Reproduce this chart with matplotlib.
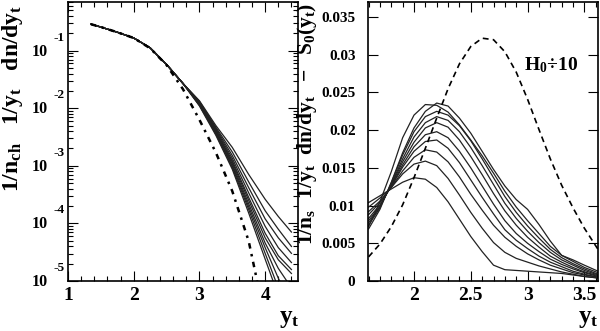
import matplotlib
matplotlib.use("Agg")
import numpy as np
import matplotlib.pyplot as plt
import matplotlib.transforms as mtransforms
from matplotlib.ticker import (MultipleLocator, FixedLocator, NullFormatter,
                               LogLocator, FuncFormatter)

plt.rcParams["font.family"] = ["Liberation Serif", "DejaVu Serif"]
plt.rcParams["font.weight"] = "bold"
plt.rcParams["mathtext.fontset"] = "custom"
plt.rcParams["mathtext.rm"] = "Liberation Serif:bold"
plt.rcParams["mathtext.it"] = "Liberation Serif:italic:bold"
plt.rcParams["mathtext.bf"] = "Liberation Serif:bold"

# ---------------- left panel: yt spectra (log scale) ----------------
yt_left = [1.35, 1.5, 1.75, 2.0, 2.25, 2.5, 2.75, 3.0, 3.25, 3.5, 3.75, 4.0, 4.2, 4.4]

# shared low-yt part of every multiplicity class
spec_common = [0.288, 0.257, 0.209, 0.166, 0.112, 0.0575, 0.0269]

spec_tail_0 = [1.349e-2, 5.01e-3, 2.09e-3, 7.08e-4, 2.63e-4, 1.32e-4, 7.08e-5]
spec_tail_1 = [1.318e-2, 4.68e-3, 1.74e-3, 5.25e-4, 1.66e-4, 7.94e-5, 3.98e-5]
spec_tail_2 = [1.288e-2, 4.47e-3, 1.51e-3, 4.17e-4, 1.20e-4, 5.62e-5, 3.02e-5]
spec_tail_3 = [1.259e-2, 4.27e-3, 1.35e-3, 3.39e-4, 8.91e-5, 3.80e-5, 2.09e-5]
spec_tail_4 = [1.230e-2, 4.07e-3, 1.23e-3, 2.82e-4, 6.76e-5, 2.75e-5, 1.58e-5]
spec_tail_5 = [1.202e-2, 3.98e-3, 1.15e-3, 2.51e-4, 5.62e-5, 2.34e-5, 1.35e-5]
spec_tail_6 = [1.175e-2, 3.80e-3, 1.07e-3, 2.19e-4, 4.57e-5, 1.66e-5, 7.59e-6]
spec_tail_7 = [1.148e-2, 3.72e-3, 1.00e-3, 1.95e-4, 3.80e-5, 1.12e-5, 3.98e-6]
spec_tail_8 = [1.122e-2, 3.55e-3, 9.33e-4, 1.74e-4, 3.02e-5, 7.59e-6, 2.00e-6]
spec_tail_9 = [1.096e-2, 3.39e-3, 8.71e-4, 1.51e-4, 2.40e-5, 5.62e-6, 1.26e-6]

spec_tails = [spec_tail_0, spec_tail_1, spec_tail_2, spec_tail_3, spec_tail_4,
              spec_tail_5, spec_tail_6, spec_tail_7, spec_tail_8, spec_tail_9]

# S0 reference spectrum
yt_s0 = [1.35, 1.5, 1.75, 2.0, 2.25, 2.5, 2.75, 3.0, 3.25, 3.5, 3.75, 3.9]
s0_vals = [0.288, 0.257, 0.209, 0.166, 0.110, 0.0562, 0.0214, 6.31e-3,
           1.70e-3, 3.63e-4, 4.90e-5, 7.6e-6]

# ---------------- right panel: spectra minus S0 ----------------
yt_right = [1.6, 1.7, 1.8, 1.9, 2.0, 2.1, 2.2, 2.3, 2.4, 2.5, 2.6, 2.7, 2.8,
            2.9, 3.0, 3.1, 3.2, 3.3, 3.4, 3.5, 3.62]

diff_0 = [0.0104, 0.0113, 0.0122, 0.0131, 0.0137, 0.0135, 0.0124, 0.0105, 0.0082, 0.0059, 0.0039,
          0.0021, 0.0015, 0.0014, 0.0013, 0.0012, 0.0011, 0.0010, 0.0008, 0.0006, 0.0004]
diff_1 = [0.0098, 0.0110, 0.0124, 0.0142, 0.0155, 0.0159, 0.0153, 0.0136, 0.0114, 0.0091, 0.0070,
          0.0051, 0.0038, 0.0030, 0.0025, 0.0020, 0.0016, 0.0012, 0.0009, 0.0006, 0.0004]
diff_2 = [0.0092, 0.0106, 0.0124, 0.0146, 0.0164, 0.0174, 0.0171, 0.0158, 0.0138, 0.0115, 0.0094,
          0.0074, 0.0058, 0.0046, 0.0036, 0.0028, 0.0021, 0.0016, 0.0011, 0.0008, 0.0005]
diff_3 = [0.0088, 0.0104, 0.0125, 0.0151, 0.0172, 0.0185, 0.0187, 0.0176, 0.0157, 0.0134, 0.0111,
          0.0089, 0.0068, 0.0054, 0.0043, 0.0033, 0.0025, 0.0019, 0.0013, 0.0009, 0.0005]
diff_4 = [0.0083, 0.0101, 0.0126, 0.0154, 0.0178, 0.0194, 0.0198, 0.0190, 0.0172, 0.0150, 0.0126,
          0.0102, 0.0080, 0.0063, 0.0050, 0.0039, 0.0029, 0.0022, 0.0016, 0.0011, 0.0006]
diff_5 = [0.0080, 0.0099, 0.0127, 0.0158, 0.0184, 0.0203, 0.0210, 0.0204, 0.0187, 0.0165, 0.0141,
          0.0116, 0.0093, 0.0074, 0.0058, 0.0045, 0.0033, 0.0025, 0.0018, 0.0012, 0.0007]
diff_6 = [0.0077, 0.0098, 0.0128, 0.0162, 0.0191, 0.0210, 0.0218, 0.0213, 0.0198, 0.0177, 0.0153,
          0.0128, 0.0103, 0.0083, 0.0066, 0.0051, 0.0038, 0.0028, 0.0021, 0.0014, 0.0008]
diff_7 = [0.0074, 0.0097, 0.0130, 0.0167, 0.0198, 0.0218, 0.0225, 0.0220, 0.0206, 0.0186, 0.0162,
          0.0137, 0.0112, 0.0091, 0.0073, 0.0057, 0.0042, 0.0031, 0.0023, 0.0016, 0.0009]
diff_8 = [0.0072, 0.0105, 0.0145, 0.0190, 0.0220, 0.0234, 0.0233, 0.0224, 0.0207, 0.0187, 0.0166,
          0.0143, 0.0119, 0.0098, 0.0080, 0.0063, 0.0046, 0.0034, 0.0026, 0.0018, 0.0011]
diff_9 = [0.0069, 0.0095, 0.0131, 0.0170, 0.0203, 0.0225, 0.0236, 0.0232, 0.0216, 0.0196, 0.0172,
          0.0148, 0.0126, 0.0108, 0.0095, 0.0075, 0.0053, 0.0034, 0.0028, 0.0021, 0.0013]

diffs = [diff_0, diff_1, diff_2, diff_3, diff_4, diff_5, diff_6, diff_7, diff_8, diff_9]

# H0 shape divided by 10
h0_div10 = [0.0032, 0.0049, 0.0072, 0.0101, 0.0137, 0.0176, 0.0216, 0.0255, 0.0288, 0.0311, 0.0322,
            0.0320, 0.0304, 0.0277, 0.0241, 0.0201, 0.0162, 0.0127, 0.0097, 0.0070, 0.0042]

W, H = 600, 331
fig = plt.figure(figsize=(W / 100, H / 100), dpi=100)

def px_box(x0, x1, y0, y1):
    return [x0 / W, 1 - y1 / H, (x1 - x0) / W, (y1 - y0) / H]

ax1 = fig.add_axes(px_box(68, 298, 2, 281))
ax2 = fig.add_axes(px_box(368, 598, 2, 281))

line_col = "#222222"

# ----- left panel drawing -----
for tail in spec_tails:
    ax1.plot(yt_left, spec_common + tail, color=line_col, lw=0.9, solid_joinstyle="round")
ax1.plot(yt_s0, s0_vals, color="black", lw=1.8, linestyle=(0, (2.2, 2.2, 1.0, 2.2)))

ax1.set_yscale("log")
ax1.set_xlim(1.0, 4.5)
ax1.set_ylim(1e-5, 0.7)
ax1.xaxis.set_major_locator(MultipleLocator(1))
ax1.xaxis.set_minor_locator(MultipleLocator(0.2))
ax1.yaxis.set_major_locator(FixedLocator([1e-5, 1e-4, 1e-3, 1e-2, 1e-1]))
ax1.yaxis.set_minor_locator(LogLocator(base=10, subs=np.arange(2, 10)))
ax1.yaxis.set_major_formatter(NullFormatter())
ax1.yaxis.set_minor_formatter(NullFormatter())

# "10" with raised exponent on the log axis
trans_y = mtransforms.blended_transform_factory(ax1.transAxes, ax1.transData)
for e in [-1, -2, -3, -4, -5]:
    base = mtransforms.offset_copy(trans_y, fig=fig, x=-20, y=-1, units="dots")
    ax1.text(0, 10.0 ** e, "10", transform=base, ha="right", va="center",
             fontsize=11.5, fontweight="bold")
    expo = mtransforms.offset_copy(trans_y, fig=fig, x=-15, y=13, units="dots")
    ax1.text(0, 10.0 ** e, f"-{-e}", transform=expo, ha="left", va="center",
             fontsize=9.5, fontweight="bold")

# ----- right panel drawing -----
for d in diffs:
    ax2.plot(yt_right, d, color=line_col, lw=0.9, solid_joinstyle="round")
ax2.plot(yt_right, h0_div10, color="black", lw=1.2, linestyle=(0, (3.5, 2.5)))
ax2.text(2.965, 0.0286, r"$\mathrm{H_0}$÷10", fontsize=14, fontweight="bold",
         ha="left", va="center")

ax2.set_xlim(1.595, 3.62)
ax2.set_ylim(0, 0.037)
ax2.xaxis.set_major_locator(MultipleLocator(0.5))
ax2.xaxis.set_minor_locator(MultipleLocator(0.1))
ax2.yaxis.set_major_locator(MultipleLocator(0.005))
ax2.xaxis.set_major_formatter(FuncFormatter(lambda v, p: f"{v:g}"))
ax2.yaxis.set_major_formatter(FuncFormatter(lambda v, p: f"{v:g}"))

for ax in (ax1, ax2):
    for s in ax.spines.values():
        s.set_linewidth(1.2)
    ax.tick_params(which="both", direction="in", top=True, right=True, width=0.8)
    ax.tick_params(which="major", length=7)
    ax.tick_params(which="minor", length=3.5)
    ax.tick_params(axis="x", labelsize=14, pad=4)
    ax.tick_params(axis="y", labelsize=11.5)
    for lbl in ax.get_xticklabels() + ax.get_yticklabels():
        lbl.set_fontweight("bold")
ax2.tick_params(axis="y", labelsize=11, pad=9)

# axis titles
fig.text(13 / W, 1 - 5 / H, r"$\mathrm{1/n_{ch}\ \ \ 1/y_t\ \ \ dn/dy_t}$", rotation=90,
         ha="center", va="top", fontsize=17)
fig.text(307 / W, 1 - 3 / H, r"$\mathrm{1/n_s\ \ 1/y_t\ \ dn/dy_t\ \ -\ \ S_0(y_t)}$",
         rotation=90, ha="center", va="top", fontsize=15.5)
fig.text(289 / W, 1 - 318 / H, r"$\mathrm{y_t}$", ha="center", va="center", fontsize=18)
fig.text(588 / W, 1 - 318 / H, r"$\mathrm{y_t}$", ha="center", va="center", fontsize=18)

fig.savefig("out.png", dpi=100)
